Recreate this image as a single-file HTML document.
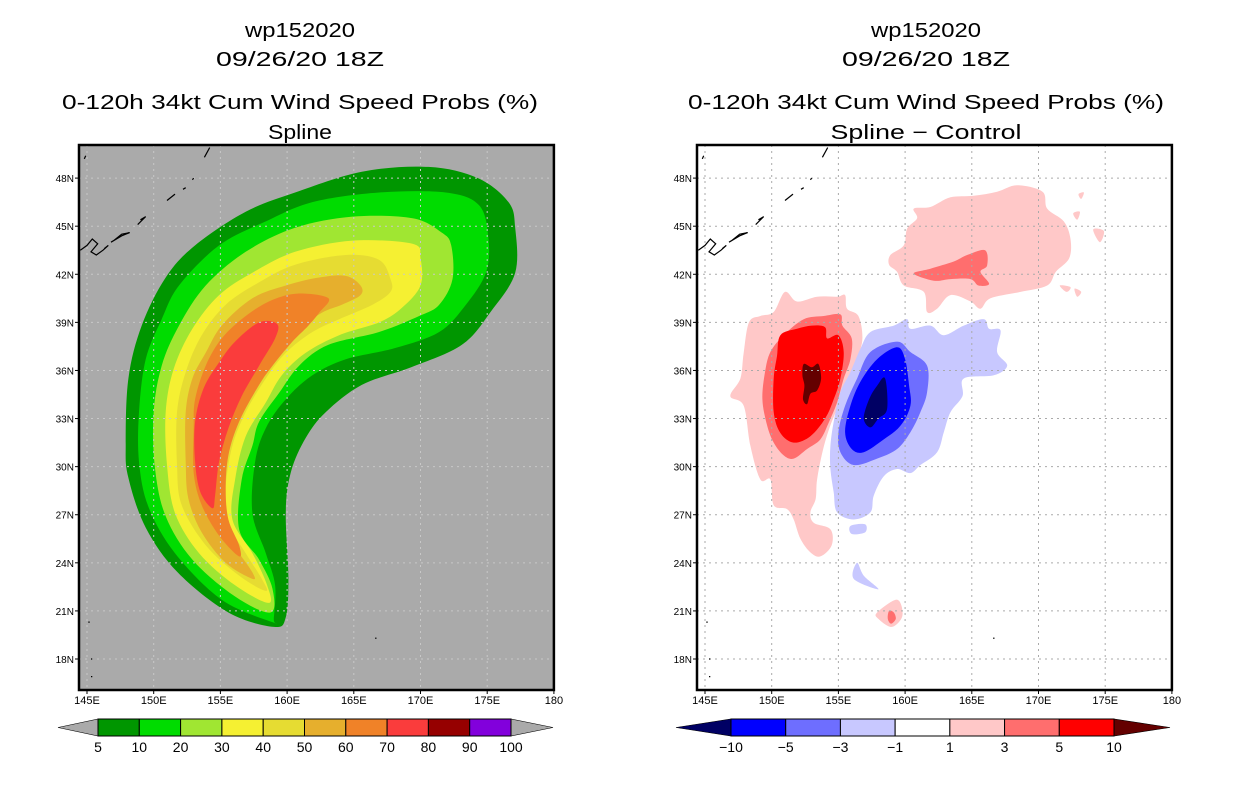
<!DOCTYPE html>
<html><head><meta charset="utf-8"><style>
html,body{margin:0;padding:0;background:#fff;}
svg{display:block;}
text{font-family:"Liberation Sans",sans-serif;fill:#000;}
</style></head><body>
<svg id="root" width="1236" height="800" viewBox="0 0 1236 800" xmlns="http://www.w3.org/2000/svg">
<g id="left"></g>
<g id="right"></g>
</svg>
<script>
// ---------- data ----------
const lonTicks = [145,150,155,160,165,170,175,180];
const lonLabels = ["145E","150E","155E","160E","165E","170E","175E","180"];
const latTicks = [18,21,24,27,30,33,36,39,42,45,48];
const latLabels = ["18N","21N","24N","27N","30N","33N","36N","39N","42N","45N","48N"];

const probLevels = ["5","10","20","30","40","50","60","70","80","90","100"];
const probColors = ["#009600","#00dc00","#a0e632","#f5f032","#e6dc32","#e6af2d","#f08228","#fa3c3c","#960000","#8200dc"];
const diffLevels = ["-10","-5","-3","-1","1","3","5","10"];
const diffColors = ["#0000ff","#6e6eff","#c8c8ff","#ffffff","#ffc8c8","#ff6e6e","#ff0000"];
const diffLow = "#000064", diffHigh = "#640000";

// contour polygons (lon, lat) for the probability field
const prob5 = [[159,20],[155.6,20.9],[151.8,23.4],[149.4,26.2],[148.1,29.3],[147.9,31.4],[148.1,35.5],[149.1,38.8],[150.9,41.8],[153.1,43.8],[156.9,45.9],[160.6,47.1],[165.6,48.4],[170.6,48.7],[174.3,48],[176.6,46.5],[177.1,44.9],[177.1,42.1],[175.3,39.7],[173.1,37.6],[169.3,36.2],[165.6,35.1],[162.9,33.4],[161.4,31.8],[160.3,29.7],[159.9,27.2],[160.1,23.1],[159.9,20.6]];
const prob10 = [[158.9,20.3],[155.1,21.7],[151.6,24.6],[149.6,27.5],[148.9,30.3],[148.9,33.4],[149.4,36.7],[150.6,39.2],[151.9,41.3],[154.9,43.8],[158.4,45.3],[161.9,46.5],[166.9,47.1],[171.9,47.1],[174.4,46.3],[175.1,44.2],[174.9,42.1],[173.4,40.1],[171.4,38.4],[168.1,37.4],[164.4,36.7],[161.9,35.7],[159.9,34.2],[158.4,32.4],[157.6,30.3],[157.4,27.1],[158.4,24.6],[159.1,22.6],[159.0,20.5]];
const prob20 = [[158.75,20.9],[156.1,21.9],[152.9,24.2],[150.9,26.9],[150.1,29.9],[150,33.4],[150.6,36.3],[151.9,38.8],[153.9,41.3],[156.9,43.4],[160.6,44.9],[164.9,45.6],[169.4,45.5],[171.6,44.6],[172.3,43.8],[172.4,41.7],[171.4,40.1],[169.9,39.4],[166.9,38.4],[163.1,37.6],[160.9,36.3],[159.4,34.6],[157.9,32.8],[157.4,31.3],[156.6,29.2],[156.4,26.1],[157.9,24.2],[158.9,22.4]];
const prob30 = [[158.6,21.5],[156.1,22.6],[153.4,24.6],[151.6,27.1],[151,30.1],[150.9,33.4],[151.5,36.1],[152.9,38.6],[154.9,40.7],[157.4,42.1],[160.6,43.4],[164.9,44.1],[169.4,43.9],[170,43],[170,41.3],[168.6,39.9],[166.9,39],[163.9,38.2],[161.4,37.1],[159.6,35.7],[158.4,34],[156.9,31.9],[156.1,29.2],[155.9,26.7],[157.4,24.6],[158.5,22.6]];
const prob40 = [[158.4,22.25],[156.4,23.2],[153.9,25.1],[152.1,27.6],[151.75,30.1],[151.75,33.4],[152.4,35.9],[153.6,38.2],[155.4,40.1],[157.9,41.5],[160.6,42.6],[164.4,43.2],[166.9,42.9],[167.75,41.7],[167.75,40.9],[166.4,40.1],[163.9,39.2],[161.9,38.4],[159.9,37.1],[158.4,35.5],[156.9,33.4],[155.9,31.3],[155.4,28.8],[155.4,26.7],[156.9,24.6],[158.1,23]];
const prob50 = [[157.4,23],[155.4,24],[153.6,25.9],[152.6,28],[152.4,30.3],[152.4,33.4],[152.9,35.5],[153.9,37.1],[155.1,38.8],[157.4,40.5],[159.9,41.3],[162.4,41.8],[164.4,41.9],[165.5,41.3],[165.5,40.7],[164.1,40.1],[162.6,39.6],[160.6,38.4],[159.4,37.1],[157.9,35.5],[156.4,33.4],[155.4,31.3],[155.1,29.2],[155.1,26.1],[156.4,24.6],[157.4,23.4]];
const prob60 = [[156.4,24.4],[154.9,25.7],[153.6,27.6],[153,29.6],[153,32.4],[153.1,34.2],[153.9,36.3],[155.1,38],[156.9,39.4],[158.9,40.4],[160.9,40.8],[163.1,40.5],[162.4,39.6],[161.6,38.8],[160.4,37.8],[159.1,36.5],[157.9,35.1],[156.4,32.8],[155.6,30.7],[155.4,28.6],[155.6,26.7],[156.4,25.1]];
const prob70 = [[154.4,27.4],[153.5,28.4],[153.1,30.3],[153.1,32.8],[153.75,34.9],[154.9,36.5],[156.1,37.8],[157.9,39],[159.25,38.9],[159.1,38],[157.9,36.3],[156.6,34.4],[155.6,32.4],[154.9,30.3],[154.6,28.2]];

// difference field polygons (lon, lat)
const posWest1 = [[151.0,40.9],[151.9,40.3],[153.4,40.6],[154.9,40.6],[155.5,40.7],[155.65,39.85],[156.5,39.4],[156.8,38.0],[156.4,36.7],[155.65,35.1],[154.9,33.6],[154.3,32.35],[153.8,30.9],[153.4,29.2],[153.3,28.0],[152.9,27.15],[153.15,26.5],[154.4,26.1],[154.5,25.1],[153.65,24.4],[152.9,24.65],[152.15,25.5],[151.65,26.7],[151.15,27.35],[150.15,27.6],[149.9,29.2],[149.15,29.2],[148.4,31.3],[147.9,33.8],[146.9,34.4],[147.65,35.5],[147.9,37.1],[148.3,39.0],[149.15,39.4],[150.15,39.65]];
const posWest3 = [[150.9,38.2],[152.4,39.2],[153.9,39.4],[155.15,39.5],[155.3,38.8],[156.0,38.0],[155.9,36.7],[155.4,35.5],[154.9,34.0],[154.3,32.8],[153.65,31.7],[152.65,31.1],[151.65,30.5],[150.9,30.7],[150.15,31.5],[149.65,32.6],[149.3,34.2],[149.5,35.9],[149.9,37.15]];
const posWest5 = [[150.65,38.2],[151.9,38.6],[153.0,38.8],[154.0,38.7],[154.15,38.0],[155.0,38.2],[155.4,37.15],[155.15,35.5],[154.65,34.2],[154.0,33.0],[152.9,31.9],[151.65,31.5],[150.65,32.1],[150.15,33.4],[150.15,35.5],[150.4,36.9]];
const posWest10 = [[152.4,36.4],[153.0,36.2],[153.5,36.4],[153.7,35.5],[153.4,34.75],[152.9,34.55],[152.65,33.9],[152.35,34.2],[152.45,35.05],[152.3,35.7]];
const negMain1 = [[157.4,38.4],[159.15,38.8],[160.15,39.2],[160.4,38.6],[161.9,38.8],[162.9,38.2],[164.4,38.8],[165.9,39.2],[166.3,38.6],[167.15,38.5],[166.9,37.15],[167.65,36.3],[166.65,35.7],[164.4,35.5],[164.3,34.4],[163.4,33.4],[162.9,32.15],[162.4,30.9],[161.15,30.1],[160.4,29.6],[159.4,29.85],[158.4,29.4],[157.65,28.2],[157.4,27.15],[156.15,26.7],[154.9,27.15],[154.65,28.4],[154.4,29.85],[154.4,31.3],[154.65,32.8],[155.15,34.65],[155.9,35.9],[156.65,37.35]];
const negMain3 = [[157.4,37.15],[159.4,37.8],[160.4,37.15],[161.65,36.3],[161.65,34.65],[161.15,33.4],[160.4,32.15],[159.4,31.1],[157.9,30.5],[156.15,30.1],[155.15,30.9],[155.0,32.15],[155.5,33.8],[156.4,35.5]];
const negMain5 = [[157.9,36.7],[159.4,37.45],[160.0,36.7],[160.3,35.05],[160.4,33.8],[159.65,32.55],[158.4,31.7],[156.9,30.9],[156.0,31.1],[155.5,32.15],[155.9,33.8],[156.65,35.3]];
const negMain10 = [[158.5,35.5],[158.65,33.6],[158.0,33.0],[157.4,32.45],[156.9,33.0],[157.3,34.2],[157.9,35.05]];
const negSouthA = [[156.4,24.0],[156.9,23.2],[158.0,22.35],[156.15,23.0]];
const negSouthB = [[155.9,26.3],[157.0,26.4],[157.0,25.9],[156.0,25.8]];
const posSouth1 = [[157.9,20.9],[159.4,21.7],[159.8,20.7],[159.0,20.0],[158.0,20.5]];
const posSouth3 = [[158.8,21.0],[159.15,20.9],[159.3,20.5],[158.95,20.2],[158.7,20.5]];
const posNE1 = [[160.65,46.1],[161.9,46.2],[163.4,46.8],[165.15,46.9],[166.9,47.15],[168.4,47.55],[170.3,47.15],[170.65,46.1],[171.9,45.3],[172.4,44.2],[172.3,43.0],[171.3,42.15],[170.65,41.3],[168.65,40.9],[166.4,40.5],[165.65,39.85],[164.9,40.3],[163.4,40.7],[162.4,39.85],[161.65,39.65],[161.4,40.9],[159.9,41.3],[159.4,42.15],[158.8,42.6],[158.9,43.2],[159.9,43.8],[160.15,44.85],[160.9,45.5]];
const posNE3 = [[160.65,42.05],[161.9,42.35],[163.65,42.8],[164.65,43.2],[166.0,43.5],[166.15,42.55],[165.65,42.15],[166.3,41.4],[165.5,41.3],[164.9,41.7],[163.4,41.7],[162.15,41.6]];
const posSpecks = [[[174.1,44.8],[174.9,44.7],[174.6,44.0]],[[171.6,41.3],[172.4,41.2],[172.1,40.9]],[[172.7,41.1],[173.2,40.9],[172.9,40.6]],[[173.0,47.0],[173.4,47.1],[173.2,46.7]],[[172.6,45.8],[173.1,45.9],[172.9,45.4]]];

// coastline fragments (Kuril islands, lon/lat)
const coast = [
 [[144.5,43.5],[145.0,43.8],[145.4,44.2],[145.8,43.9],[145.3,43.4],[145.7,43.2],[146.2,43.5],[146.6,43.8],[146.3,43.6]],
 [[146.8,44.0],[147.6,44.4],[148.2,44.6],[147.6,44.5],[147.0,44.1]],
 [[148.8,45.1],[149.4,45.6],[149.0,45.4]],
 [[151.0,46.6],[151.6,47.0]],
 [[152.2,47.3],[152.4,47.4]],
 [[152.9,47.9],[153.0,48.0]],
 [[153.8,49.3],[154.2,49.9]],
 [[144.8,49.2],[144.9,49.4]],
 [[145.1,20.3],[145.2,20.3]],[[145.3,18.0],[145.4,18.0]],[[145.3,16.9],[145.4,16.9]],[[166.6,19.3],[166.7,19.3]]
];

// ---------- axis functions ----------
const NS = "http://www.w3.org/2000/svg";
function mk(parent, tag, attrs) { const e = document.createElementNS(NS, tag); for (const k in attrs) e.setAttribute(k, attrs[k]); parent.appendChild(e); return e; }
function makeAxes(x0) {
  const x = lon => x0 + 8 + (lon - 145) * 13.34;
  const y = lat => 659 - (lat - 18) * 16.03;
  return {x, y};
}
function smoothPath(pts, ax) {
  const p = pts.map(q => [ax.x(q[0]), ax.y(q[1])]);
  const n = p.length;
  let d = "M" + p[0][0].toFixed(1) + "," + p[0][1].toFixed(1);
  for (let i = 0; i < n; i++) {
    const p0 = p[(i - 1 + n) % n], p1 = p[i], p2 = p[(i + 1) % n], p3 = p[(i + 2) % n];
    const c1 = [p1[0] + (p2[0] - p0[0]) / 6, p1[1] + (p2[1] - p0[1]) / 6];
    const c2 = [p2[0] - (p3[0] - p1[0]) / 6, p2[1] - (p3[1] - p1[1]) / 6];
    d += "C" + c1.map(v => v.toFixed(1)) + " " + c2.map(v => v.toFixed(1)) + " " + p2.map(v => v.toFixed(1));
  }
  return d + "Z";
}

function drawPanel(g, x0, bg, gridColor, titleLines, fills, titleCx, lastLen) {
  const ax = makeAxes(x0);
  const L = ax.x(144.4), R = ax.x(180), T = 145, B = 690;
  // titles
  const tl = [[titleLines[0], 37, 110, "title-case"], [titleLines[1], 66, 168, "title-date"], [titleLines[2], 109, 476, "title-product"], [titleLines[3], 139, lastLen, "title-subtitle"]];
  tl.forEach(t => {
    const e = mk(g, "text", {x: titleCx, y: t[1], "text-anchor": "middle", "font-size": "20", textLength: t[2], lengthAdjust: "spacingAndGlyphs"});
    e.textContent = t[0];
    
    
  });
  const clipId = "clip" + x0;
  const cp = mk(mk(g, "defs", {}), "clipPath", {id: clipId});
  mk(cp, "rect", {x: L, y: T, width: R - L, height: B - T});
  const bgr = mk(g, "rect", {x: L, y: T, width: R - L, height: B - T, fill: bg});
  
  
  const fg = mk(g, "g", {"clip-path": "url(#" + clipId + ")"});
  
  
  fills.forEach(f => {
    const e = mk(fg, "path", {d: smoothPath(f[0], ax), fill: f[1]});
    
    
  });
  // grid
  lonTicks.slice(0, 7).forEach(v => { const e = mk(fg, "line", {x1: ax.x(v), x2: ax.x(v), y1: T, y2: B, stroke: gridColor, "stroke-width": 1, "stroke-dasharray": "2,4"});
      });
  latTicks.forEach(v => { const e = mk(fg, "line", {x1: L, x2: R, y1: ax.y(v), y2: ax.y(v), stroke: gridColor, "stroke-width": 1, "stroke-dasharray": "2,4"});
      });
  // coast
  coast.forEach(c => {
    const e = mk(fg, "polyline", {points: c.map(q => ax.x(q[0]).toFixed(1) + "," + ax.y(q[1]).toFixed(1)).join(" "), fill: "none", stroke: "#000", "stroke-width": 1.2});
    
    
  });
  const fr = mk(g, "rect", {x: L, y: T, width: R - L, height: B - T, fill: "none", stroke: "#000", "stroke-width": 2.5});
  
  
  // ticks
  lonTicks.forEach((v, i) => {
    mk(g, "line", {x1: ax.x(v), x2: ax.x(v), y1: B, y2: B + 4, stroke: "#000", "stroke-width": 1});
    const e = mk(g, "text", {x: ax.x(v), y: B + 14, "text-anchor": "middle", "font-size": "11"});
    e.textContent = lonLabels[i];
    
    
  });
  latTicks.forEach((v, i) => {
    mk(g, "line", {x1: L - 4, x2: L, y1: ax.y(v), y2: ax.y(v), stroke: "#000", "stroke-width": 1});
    const e = mk(g, "text", {x: L - 5, y: ax.y(v) + 4, "text-anchor": "end", "font-size": "10"});
    e.textContent = latLabels[i];
    
    
  });
}

function drawColorbar(g, tipL, rL, rR, tipR, colors, labels, leftTri, rightTri, name) {
  const cb = mk(g, "g", {});
  
  
  const T = 719, B = 736, M = 727.5, n = colors.length, w = (rR - rL) / n;
  const lt = mk(cb, "polygon", {points: `${tipL},${M} ${rL},${T} ${rL},${B}`, fill: leftTri, stroke: "#000", "stroke-width": 0.6});
   
  const rt = mk(cb, "polygon", {points: `${tipR},${M} ${rR},${T} ${rR},${B}`, fill: rightTri, stroke: "#000", "stroke-width": 0.6});
   
  colors.forEach((c, i) => {
    const e = mk(cb, "rect", {x: rL + i * w, y: T, width: w, height: B - T, fill: c, stroke: "#000", "stroke-width": 1});
    
    
  });
  labels.forEach((l, i) => {
    const e = mk(cb, "text", {x: rL + i * w, y: 752, "text-anchor": "middle", "font-size": "14"});
    e.textContent = l.replace("-", "\u2212");
    
    
  });
}

const left = document.getElementById("left");
drawPanel(left, 79, "#aaaaaa", "#c8c8c8", ["wp152020", "09/26/20 18Z", "0-120h 34kt Cum Wind Speed Probs (%)", "Spline"], [
  [prob5, probColors[0], "prob-5"], [prob10, probColors[1], "prob-10"], [prob20, probColors[2], "prob-20"],
  [prob30, probColors[3], "prob-30"], [prob40, probColors[4], "prob-40"], [prob50, probColors[5], "prob-50"],
  [prob60, probColors[6], "prob-60"], [prob70, probColors[7], "prob-70"]
], 300, 64);
drawColorbar(left, 58, 98, 511, 553, probColors, probLevels, "#aaaaaa", "#aaaaaa", "prob-colorbar");

const right = document.getElementById("right");
const specks = posSpecks.map(s => [s, diffColors[4], "diff-pos-speck"]);
drawPanel(right, 697, "#ffffff", "#aaaaaa", ["wp152020", "09/26/20 18Z", "0-120h 34kt Cum Wind Speed Probs (%)", "Spline \u2212 Control"], [
  [posNE1, diffColors[4], "diff-pos-ne-1"], [posNE3, diffColors[5], "diff-pos-ne-3"],
  [posWest1, diffColors[4], "diff-pos-west-1"], [posWest3, diffColors[5], "diff-pos-west-3"],
  [posWest5, diffColors[6], "diff-pos-west-5"], [posWest10, diffHigh, "diff-pos-west-10"],
  [negMain1, diffColors[2], "diff-neg-1"], [negMain3, diffColors[1], "diff-neg-3"],
  [negMain5, diffColors[0], "diff-neg-5"], [negMain10, diffLow, "diff-neg-10"],
  [negSouthA, diffColors[2], "diff-neg-south-a"], [negSouthB, diffColors[2], "diff-neg-south-b"],
  [posSouth1, diffColors[4], "diff-pos-south-1"], [posSouth3, diffColors[5], "diff-pos-south-3"]
].concat(specks), 926, 191);
drawColorbar(right, 676, 731, 1114, 1170, diffColors, diffLevels, diffLow, diffHigh, "diff-colorbar");
</script>
</body></html>
